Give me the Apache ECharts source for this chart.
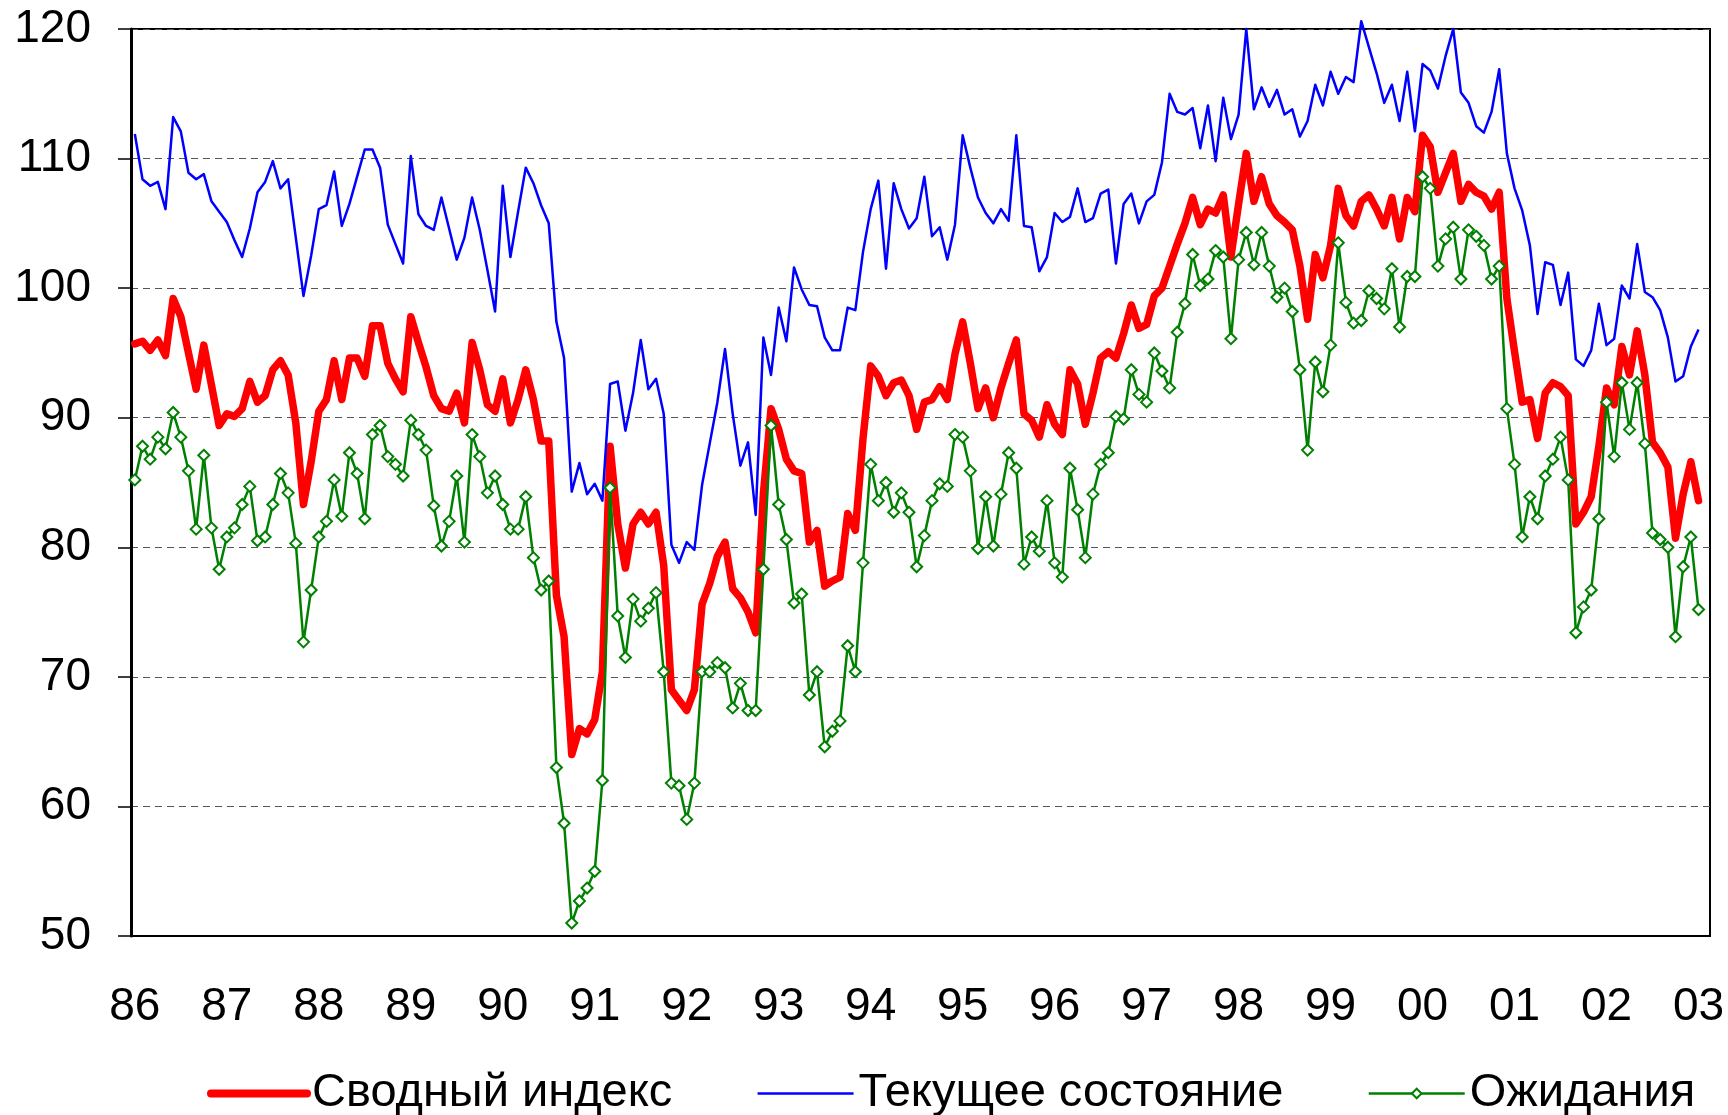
<!DOCTYPE html>
<html>
<head>
  <meta charset="utf-8">
  <title>Индексы потребительских настроений</title>
  <script src="https://cdn.jsdelivr.net/npm/echarts@6.0.0/dist/echarts.min.js"></script>
  <style>
    html, body { margin: 0; padding: 0; background: #fff; }
  </style>
</head>
<body>
  <div id="main" style="width:1728px; height:1115px;"></div>
  <script type="text/javascript">
    // year labels on the x axis, monthly data Jan 1986 .. Jan 2003
    const yearLabels = ['86', '87', '88', '89', '90', '91', '92', '93', '94',
      '95', '96', '97', '98', '99', '00', '01', '02', '03'];

    // Сводный индекс
    const composite = [
      95.7, 95.9, 95.2, 96.0, 94.8, 99.2, 97.8, 95.0, 92.2, 95.6, 92.5, 89.4,
      90.3, 90.1, 90.7, 92.8, 91.2, 91.7, 93.7, 94.4, 93.3, 89.6, 83.3, 86.6,
      90.5, 91.4, 94.4, 91.4, 94.6, 94.6, 93.2, 97.1, 97.1, 94.2, 93.0, 92.0,
      97.8, 95.8, 93.9, 91.7, 90.7, 90.5, 91.9, 89.6, 95.8, 93.7, 91.0, 90.5,
      93.0, 89.6, 91.4, 93.7, 91.4, 88.2, 88.2, 76.3, 73.1, 64.0, 66.0, 65.6,
      66.7, 70.4, 87.8, 81.8, 78.4, 81.8, 82.7, 81.8, 82.7, 78.6, 69.0, 68.2,
      67.4, 69.0, 75.6, 77.2, 79.3, 80.4, 76.8, 76.1, 75.0, 73.4, 84.1, 90.7,
      89.1, 86.8, 85.9, 85.7, 80.4, 81.3, 77.0, 77.4, 77.7, 82.6, 81.3, 88.4,
      94.0, 93.2, 91.7, 92.7, 92.9, 91.7, 89.1, 91.2, 91.4, 92.4, 91.4, 94.9,
      97.4, 94.2, 90.7, 92.3, 90.0, 92.3, 94.2, 96.0, 90.3, 89.8, 88.5, 91.0,
      89.5, 88.7, 93.7, 92.6, 89.5, 91.9, 94.6, 95.1, 94.6, 96.5, 98.7, 96.9,
      97.2, 99.4, 100.0, 101.7, 103.4, 105.0, 107.0, 104.9, 106.1, 105.8, 107.2, 102.4,
      106.5, 110.4, 106.7, 108.6, 106.5, 105.6, 105.1, 104.5, 101.7, 97.6, 102.6, 100.8,
      103.3, 107.7, 105.6, 104.8, 106.7, 107.2, 106.1, 104.8, 107.0, 103.8, 107.0, 105.9,
      111.8, 110.9, 107.4, 108.9, 110.4, 106.7, 108.0, 107.4, 107.1, 106.1, 107.4, 99.2,
      95.1, 91.2, 91.4, 88.4, 91.9, 92.7, 92.4, 91.7, 81.8, 82.7, 83.9, 87.8,
      92.3, 91.0, 95.5, 93.3, 96.7, 93.3, 88.1, 87.3, 86.2, 80.7, 84.1, 86.6,
      83.6
    ];

    // Текущее состояние
    const current = [
      111.9, 108.4, 107.9, 108.2, 106.1, 113.2, 112.1, 108.9, 108.4, 108.8, 106.7, 105.9,
      105.1, 103.7, 102.4, 104.6, 107.4, 108.2, 109.8, 107.7, 108.4, 103.9, 99.4, 102.5,
      106.1, 106.4, 109.0, 104.8, 106.5, 108.6, 110.7, 110.7, 109.3, 104.9, 103.4, 101.9,
      110.2, 105.7, 104.8, 104.5, 107.0, 104.6, 102.2, 103.9, 107.0, 104.5, 101.4, 98.2,
      107.9, 102.4, 105.9, 109.3, 108.1, 106.4, 105.0, 97.4, 94.6, 84.3, 86.5, 84.1,
      84.9, 83.6, 92.6, 92.8, 89.0, 91.9, 96.0, 92.2, 93.0, 90.3, 80.2, 78.8,
      80.4, 79.8, 84.8, 88.0, 91.2, 95.3, 90.3, 86.3, 88.1, 82.5, 96.2, 93.3,
      98.5, 95.9, 101.6, 99.9, 98.7, 98.6, 96.2, 95.2, 95.2, 98.5, 98.3, 102.8,
      106.1, 108.3, 101.5, 108.1, 106.1, 104.6, 105.4, 108.6, 104.0, 104.7, 102.2, 104.9,
      111.8, 109.3, 107.0, 105.8, 105.0, 106.1, 105.2, 111.8, 104.8, 104.7, 101.3, 102.4,
      105.8, 105.1, 105.5, 107.7, 105.1, 105.4, 107.3, 107.6, 101.9, 106.5, 107.3, 105.0,
      106.7, 107.2, 109.7, 115.0, 113.6, 113.4, 113.9, 110.8, 114.1, 109.8, 114.7, 111.5,
      113.4, 120.0, 113.8, 115.5, 114.0, 115.3, 113.4, 113.8, 111.7, 112.9, 115.7, 114.1,
      116.7, 115.0, 116.3, 115.9, 120.6, 118.6, 116.6, 114.3, 115.7, 112.9, 116.7, 112.1,
      117.3, 116.8, 115.4, 117.9, 120.0, 115.1, 114.3, 112.5, 112.0, 113.6, 116.9, 110.4,
      107.7, 106.0, 103.3, 98.0, 102.0, 101.8, 98.7, 101.2, 94.5, 94.0, 95.2, 98.8,
      95.6, 96.1, 100.2, 99.2, 103.4, 99.7, 99.3, 98.3, 96.2, 92.8, 93.2, 95.5,
      96.8
    ];

    // Ожидания
    const expectations = [
      85.2, 87.8, 86.8, 88.5, 87.6, 90.4, 88.5, 85.9, 81.4, 87.1, 81.5, 78.3,
      80.8, 81.5, 83.3, 84.7, 80.5, 80.8, 83.3, 85.7, 84.2, 80.3, 72.7, 76.7,
      80.8, 82.0, 85.2, 82.4, 87.3, 85.7, 82.2, 88.7, 89.4, 87.0, 86.4, 85.5,
      89.8, 88.7, 87.5, 83.2, 80.1, 82.0, 85.5, 80.4, 88.7, 87.0, 84.2, 85.5,
      83.3, 81.4, 81.4, 83.9, 79.2, 76.7, 77.4, 63.0, 58.7, 51.0, 52.7, 53.7,
      55.0, 62.0, 84.6, 74.7, 71.5, 76.0, 74.3, 75.3, 76.5, 70.4, 61.8, 61.6,
      59.0, 61.8, 70.4, 70.4, 71.1, 70.7, 67.6, 69.5, 67.4, 67.4, 78.3, 89.4,
      83.3, 80.6, 75.7, 76.4, 68.6, 70.4, 64.6, 65.8, 66.6, 72.4, 70.4, 78.8,
      86.4, 83.6, 85.0, 82.7, 84.2, 82.7, 78.5, 80.9, 83.6, 84.9, 84.7, 88.7,
      88.5, 85.9, 79.9, 83.9, 80.1, 84.1, 87.3, 86.1, 78.7, 80.8, 79.7, 83.6,
      78.8, 77.7, 86.1, 82.9, 79.2, 84.1, 86.4, 87.3, 90.1, 89.9, 93.7, 91.8,
      91.2, 95.0, 93.6, 92.3, 96.6, 98.8, 102.6, 100.2, 100.7, 102.9, 102.4, 96.1,
      102.2, 104.3, 101.8, 104.3, 101.7, 99.3, 100.0, 98.2, 93.7, 87.5, 94.3, 92.0,
      95.6, 103.5, 98.9, 97.3, 97.5, 99.8, 99.2, 98.4, 101.5, 97.0, 100.9, 100.9,
      108.6, 107.7, 101.7, 103.8, 104.7, 100.7, 104.5, 104.0, 103.3, 100.7, 101.7, 90.7,
      86.4, 80.8, 83.9, 82.2, 85.5, 86.8, 88.5, 85.2, 73.4, 75.4, 76.7, 82.2,
      91.2, 87.0, 92.7, 89.1, 92.7, 88.0, 81.1, 80.6, 80.0, 73.1, 78.5, 80.8,
      75.2
    ];

    // one category per month, Jan 86 .. Feb 03 (last one is empty)
    const months = [];
    yearLabels.forEach(y => {
      for (let m = 0; m < 12; m++) months.push(m === 0 ? y : '');
    });
    const categories = months.slice(0, 206);

    const font = '"Liberation Sans", Arial, sans-serif';

    const myChart = echarts.init(document.getElementById('main'));

    const option = {
      animation: false,
      backgroundColor: '#fff',
      grid: {
        left: 131, right: 18, top: 29, bottom: 179,
        show: true, borderColor: '#000', borderWidth: 2
      },
      legend: {
        left: 202, top: 1065,
        itemWidth: 96, itemHeight: 12, itemGap: 84,
        textStyle: { fontFamily: font, fontSize: 47, color: '#000' },
        data: [{
          name: 'Сводный индекс',
          itemStyle: { opacity: 0 },
          lineStyle: { width: 8, cap: 'round', color: '#ff0000' }
        }, {
          name: 'Текущее состояние',
          itemStyle: { opacity: 0 },
          lineStyle: { width: 2.5, color: '#0000ff' }
        }, {
          name: 'Ожидания',
          lineStyle: { width: 2.5, color: '#008000' }
        }]
      },
      xAxis: [{
        type: 'category',
        data: categories,
        boundaryGap: true,
        axisLine: { lineStyle: { color: '#000', width: 2 } },
        axisTick: { interval: 11, length: 12, lineStyle: { color: '#000', width: 1.5 } },
        axisLabel: {
          interval: 11, margin: 48,
          fontFamily: font, fontSize: 46, color: '#000'
        },
        splitLine: { show: false }
      }, {
        // monthly minor ticks inside the plot
        type: 'category',
        data: categories,
        boundaryGap: true,
        position: 'bottom',
        axisLine: { show: false },
        axisTick: { interval: 0, inside: true, length: 7, lineStyle: { color: '#333', width: 1 } },
        axisLabel: { show: false },
        splitLine: { show: false }
      }],
      yAxis: {
        type: 'value',
        min: 50, max: 120, interval: 10,
        axisLine: { show: true, lineStyle: { color: '#000', width: 3 } },
        axisTick: { show: true, length: 13, lineStyle: { color: '#000', width: 1.5 } },
        axisLabel: {
          margin: 40, fontFamily: font, fontSize: 46, color: '#000',
          padding: [0, 0, 8, 0]
        },
        splitLine: {
          show: true,
          lineStyle: { color: '#555', width: 1, type: [7, 5] }
        }
      },
      series: [{
        name: 'Сводный индекс',
        type: 'line',
        data: composite,
        symbol: 'none',
        clip: false,
        lineStyle: { color: '#ff0000', width: 7.5, join: 'round', cap: 'round' },
        itemStyle: { color: '#ff0000' }
      }, {
        name: 'Текущее состояние',
        type: 'line',
        data: current,
        symbol: 'none',
        clip: false,
        lineStyle: { color: '#0000ff', width: 2.5, join: 'round' },
        itemStyle: { color: '#0000ff' }
      }, {
        name: 'Ожидания',
        type: 'line',
        data: expectations,
        symbol: 'diamond',
        symbolSize: [11, 11],
        showAllSymbol: true,
        clip: false,
        lineStyle: { color: '#008000', width: 2.5, join: 'round' },
        itemStyle: { color: '#ffffff', borderColor: '#008000', borderWidth: 2 }
      }]
    };

    myChart.setOption(option);
  </script>
</body>
</html>
